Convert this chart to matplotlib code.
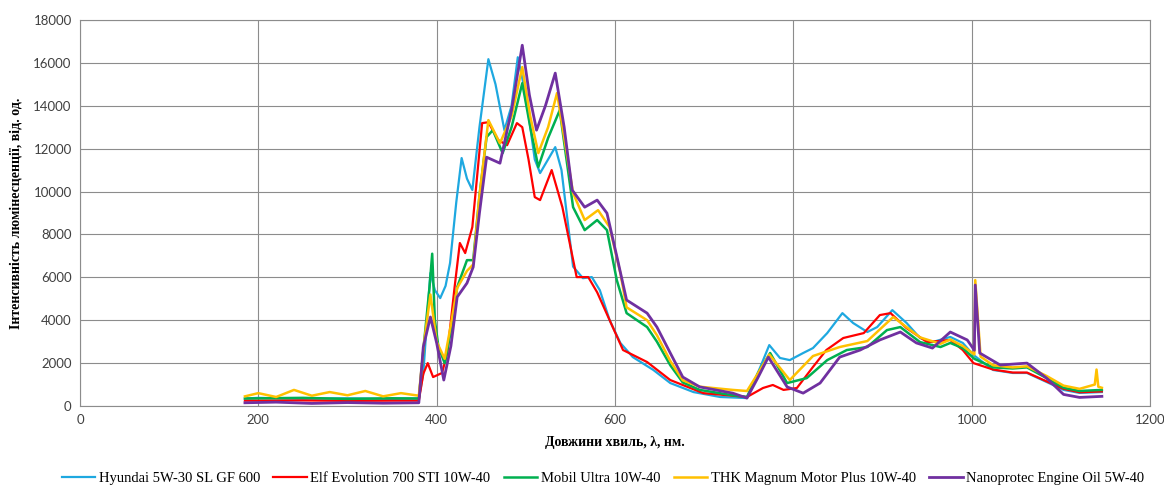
import matplotlib
matplotlib.use("Agg")
import matplotlib.pyplot as plt

# series (wavelength nm, intensity a.u.)
hyundai_x = [185, 200, 250, 300, 350, 380, 385, 390, 393, 398, 404, 410, 415, 422, 428, 434, 440, 448, 458, 466,
             476, 484, 491, 500, 510, 516, 525, 533, 540, 553, 564, 574, 583, 594, 606, 620, 643, 662, 688, 718,
             748, 763, 773, 785, 796, 811, 822, 838, 855, 867, 883, 894, 911, 927, 942, 956, 976, 990, 1002, 1024,
             1046, 1062, 1084, 1103, 1121, 1146]
hyundai_y = [350, 380, 340, 360, 330, 350, 1500, 4500, 6200, 5400, 5030, 5600, 6660, 9500, 11560, 10600, 10070, 13000, 16170, 15000,
             12860, 14000, 16260, 14500, 11500, 10860, 11500, 12070, 11000, 6500, 5960, 6010, 5400, 4000, 2940, 2280, 1680, 1070, 650, 420,
             370, 1820, 2840, 2240, 2140, 2470, 2700, 3400, 4330, 3870, 3450, 3680, 4470, 3870, 3170, 2980, 3220, 2940, 2380, 1680,
             1540, 1540, 1120, 750, 610, 650]

elf_x = [185, 250, 300, 350, 380, 385, 390, 396, 406, 412, 420, 426, 432, 440, 451, 458, 469, 479, 490, 496,
         503, 510, 516, 529, 541, 557, 570, 580, 594, 609, 636, 662, 699, 748, 766, 777, 789, 804, 822, 837,
         856, 879, 897, 909, 927, 950, 976, 990, 1002, 1024, 1046, 1062, 1084, 1103, 1121, 1146]
elf_y = [250, 260, 240, 250, 250, 1500, 2000, 1350, 1540, 2470, 5500, 7600, 7130, 8340, 13190, 13230, 12400, 12160, 13190, 13000,
         11500, 9740, 9600, 11000, 9270, 6010, 6010, 5300, 4000, 2610, 2050, 1210, 600, 420, 840, 980, 750, 840, 1820, 2610,
         3170, 3400, 4240, 4330, 3630, 2980, 3080, 2610, 2000, 1700, 1560, 1560, 1150, 800, 640, 680]

mobil_x = [185, 250, 300, 350, 380, 386, 392, 395, 398, 402, 409, 416, 423, 434, 441, 448, 456, 463, 474, 484,
           496, 505, 514, 525, 538, 553, 566, 580, 591, 602, 613, 636, 647, 662, 676, 695, 732, 748, 760, 774,
           793, 815, 838, 860, 883, 905, 920, 942, 965, 976, 990, 1003, 1024, 1046, 1062, 1084, 1103, 1121, 1146]
mobil_y = [350, 380, 330, 360, 350, 3000, 5540, 7100, 4000, 2750, 2000, 3500, 5540, 6800, 6800, 9800, 12540, 12860, 11790, 13000,
           15050, 13000, 11140, 12500, 13790, 9270, 8200, 8670, 8200, 5870, 4330, 3680, 3000, 1900, 1100, 750, 500, 420, 1500, 2470,
           1070, 1300, 2140, 2610, 2750, 3540, 3680, 2980, 2750, 2940, 2700, 2200, 1800, 1750, 1800, 1300, 850, 700, 750]

thk_x = [185, 200, 220, 240, 260, 280, 300, 320, 340, 360, 380, 386, 393, 400, 409, 416, 423, 434, 441, 448,
         458, 471, 484, 496, 505, 514, 525, 535, 553, 566, 581, 594, 606, 613, 636, 647, 662, 676, 695, 732,
         748, 760, 773, 796, 822, 852, 883, 912, 942, 965, 976, 990, 1003, 1004, 1010, 1024, 1046, 1062, 1084, 1103,
         1121, 1138, 1140, 1142, 1146]
thk_y = [450, 600, 420, 750, 480, 650, 500, 700, 450, 600, 480, 3000, 5200, 3000, 2200, 3800, 5500, 6300, 6600, 9800,
         13330, 12250, 13500, 15800, 13500, 11790, 13000, 14590, 9930, 8670, 9130, 8340, 6200, 4600, 4000, 3300, 2100, 1200, 900, 750,
         700, 1500, 2400, 1210, 2330, 2750, 3030, 4150, 3200, 2900, 3100, 2800, 2400, 5870, 2300, 1900, 1800, 1850, 1400, 950,
         800, 1000, 1700, 900, 850]

nano_x = [185, 220, 260, 300, 340, 380, 385, 393, 400, 408, 416, 423, 434, 441, 448, 456, 471, 484, 496, 504,
          512, 522, 533, 543, 552, 566, 580, 591, 603, 613, 636, 647, 662, 676, 695, 732, 748, 760, 772, 793,
          811, 830, 852, 875, 897, 920, 938, 956, 976, 995, 1003, 1004, 1009, 1032, 1062, 1084, 1103, 1121, 1146]
nano_y = [150, 180, 120, 160, 130, 150, 2750, 4150, 2940, 1210, 2800, 5080, 5730, 6480, 9000, 11600, 11320, 13790, 16820, 14500,
          12860, 14000, 15520, 13000, 10070, 9270, 9600, 8990, 6800, 4940, 4330, 3680, 2470, 1350, 890, 600, 370, 1300, 2280, 890,
          600, 1070, 2280, 2610, 3080, 3450, 2940, 2700, 3450, 3080, 2600, 5640, 2470, 1910, 2000, 1300, 540, 400, 450]

labels = ["Hyundai 5W-30 SL GF 600", "Elf Evolution 700 STI 10W-40", "Mobil Ultra 10W-40",
          "THK Magnum Motor Plus 10W-40", "Nanoprotec Engine Oil 5W-40"]
colors = ["#1EA8E0", "#FF0000", "#00B050", "#FFC000", "#7030A0"]
widths = [1.6, 1.6, 1.8, 1.8, 2.0]

series = [(hyundai_x, hyundai_y), (elf_x, elf_y), (mobil_x, mobil_y), (thk_x, thk_y), (nano_x, nano_y)]

fig = plt.figure(figsize=(11.64, 4.86), dpi=100)
ax = fig.add_axes([0.0687, 0.1646, 0.9193, 0.7944])

for (xs, ys), lab, c, w in zip(series, labels, colors, widths):
    ax.plot(xs, ys, color=c, lw=w, label=lab)

ax.set_xlim(0, 1200)
ax.set_ylim(0, 18000)
ax.set_xticks(range(0, 1201, 200))
ax.set_yticks(range(0, 18001, 2000))
ax.grid(True, color="#8C8C8C", lw=0.8)
ax.set_axisbelow(True)
for s in ax.spines.values():
    s.set_color("#8C8C8C")
    s.set_linewidth(0.8)
ax.tick_params(length=0, labelsize=9.5, colors="#404040", pad=6)
for t in ax.get_xticklabels() + ax.get_yticklabels():
    t.set_family("Lato")

ax.set_xlabel("Довжини хвиль, λ, нм.", family="Liberation Serif", fontweight="bold",
              fontsize=10, labelpad=7)
ax.set_ylabel("Інтенсивність люмінесценції, від. од.", family="Liberation Serif",
              fontweight="bold", fontsize=10, labelpad=8)

fig.legend(loc="lower center", ncol=5, frameon=False, bbox_to_anchor=(0.518, -0.025),
           prop={"family": "Liberation Serif", "size": 10.5}, handlelength=2.3,
           columnspacing=0.9, handletextpad=0.25)

fig.savefig("out.png", dpi=100)
